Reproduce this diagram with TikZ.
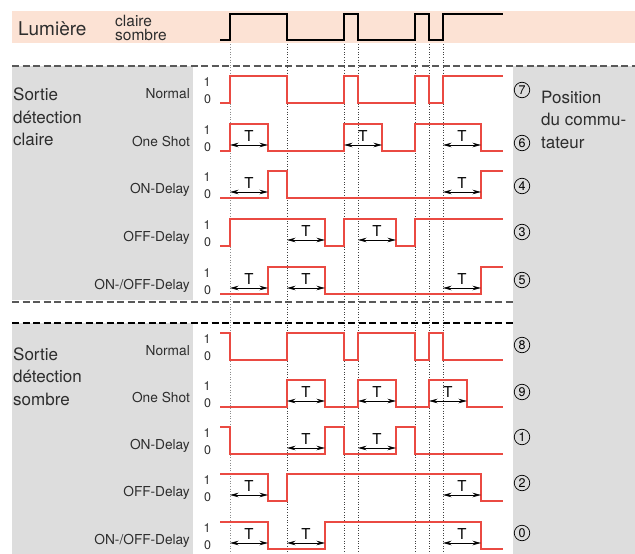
\documentclass[tikz,border=0pt]{standalone}
\usepackage{fontspec}
\setmainfont{TeX Gyre Heros}
\usepackage{tikz}
\usetikzlibrary{arrows.meta}

\definecolor{rosa}{RGB}{252,226,212}
\definecolor{grisfondo}{RGB}{221,221,221}
\definecolor{rojo}{RGB}{234,74,66}
\definecolor{texto}{RGB}{45,45,45}

\begin{document}
\begin{tikzpicture}[
            x=1pt, y=-1pt, text=texto,
            font=\fontsize{13.7}{16}\selectfont,
            separador/.style={dash pattern=on 7pt off 3.5pt, line width=1.1pt, draw=#1},
            separador/.default=black!65,
            marca/.style={dotted, line width=0.6pt, draw=black!75},
            luz/.style={line width=1.5pt, black},
            senal/.style={line width=1.5pt, rojo},
            fila/.style={shift={(0,#1)}},
            duracion/.style={{Stealth[length=8.5pt,width=4.5pt]}-{Stealth[length=8.5pt,width=4.5pt]}, line width=0.7pt, black},
            tlabel/.style={above=2pt, inner sep=1pt, text=black, font=\fontsize{15}{15}\selectfont},
            nivel/.style={inner sep=0pt, font=\fontsize{12.5}{12.5}\selectfont},
            modo/.style={anchor=base east, inner sep=0pt},
            bloque/.style={anchor=base west, align=left, inner sep=0pt, font=\fontsize{17}{22.5}\selectfont},
            posicion/.style={circle, draw=black, line width=0.7pt, minimum size=15.5pt, inner sep=0pt, text=black, font=\fontsize{12.5}{12.5}\selectfont},
        ]
            \useasboundingbox (0,0) rectangle (635,554);

            % --- Fondos ---
            \fill[rosa] (12,11) rectangle (635,43);
            \fill[grisfondo] (12,66) rectangle (193,300);
            \fill[grisfondo] (12,323) rectangle (193,554);
            \fill[grisfondo] (513,66) rectangle (635,554);

            % --- Separadores ---
            \draw[separador] (12,66) -- (635,66);
            \draw[separador] (12,302) -- (513,302);
            \draw[separador=black] (12,323) -- (513,323);

            % --- Líneas de referencia ---
            \draw[marca, draw=black!45] (230,44) -- (230,554);
            \foreach \x in {287, 344, 358, 415, 429, 443} {
                \draw[marca] (\x,44) -- (\x,554);
            }

            % --- Luz ---
            \node[anchor=base west, inner sep=0pt, font=\fontsize{19}{19}\selectfont] (lumiere) at (18,35) {Lumière};
            \node[anchor=base west, inner sep=0pt, font=\fontsize{15.5}{15.5}\selectfont] (claire) at (115,26) {claire};
            \node[anchor=base west, inner sep=0pt, font=\fontsize{15.5}{15.5}\selectfont] (sombre) at (115,40.7) {sombre};
            \draw[luz] (220,40) -| (230,14) -| (287,40) -| (344,14) -| (358,40) -| (415,14) -| (429,40) -| (443,14) -- (503,14);

            % --- Sortie détection claire ---
            \node[bloque] (claro) at (13,145.7) {Sortie\\détection\\claire};
            \draw[senal, fila=76] (220,27) -| (230,0) -| (287,27) -| (344,0) -| (358,27) -| (415,0) -| (429,27) -| (443,0) -- (503,0);
            \draw[senal, fila=124] (220,27) -| (230,0) -| (268,27) -| (344,0) -| (382,27) -| (415,0) -| (481,27) -- (503,27);
            \draw[senal, fila=171] (220,27) -| (268,0) -| (287,27) -| (481,0) -- (503,0);
            \draw[senal, fila=219] (220,27) -| (230,0) -| (325,27) -| (344,0) -| (396,27) -| (415,0) -- (503,0);
            \draw[senal, fila=267] (220,27) -| (268,0) -| (325,27) -| (481,0) -- (503,0);

            % --- Sortie détection sombre ---
            \node[bloque] (oscuro) at (13,405) {Sortie\\détection\\sombre};
            \draw[senal, fila=333] (220,0) -| (230,27) -| (287,0) -| (344,27) -| (358,0) -| (415,27) -| (429,0) -| (443,27) -- (503,27);
            \draw[senal, fila=380] (220,27) -| (287,0) -| (325,27) -| (358,0) -| (396,27) -| (429,0) -| (467,27) -- (503,27);
            \draw[senal, fila=427] (220,0) -| (230,27) -| (325,0) -| (344,27) -| (396,0) -| (415,27) -- (503,27);
            \draw[senal, fila=474] (220,0) -| (268,27) -| (287,0) -| (481,27) -- (503,27);
            \draw[senal, fila=522] (220,0) -| (268,27) -| (325,0) -| (481,27) -- (503,27);

            % --- Modos y niveles ---
            \foreach \y/\nom [count=\k] in {76/Normal, 124/One Shot, 171/ON-Delay, 219/OFF-Delay, 267/{ON-/OFF-Delay},
                    333/Normal, 380/One Shot, 427/ON-Delay, 474/OFF-Delay, 522/{ON-/OFF-Delay}} {
                \node[modo] (modo\k) at (190,\y+22) {\nom};
                \node[nivel] (uno\k) at (207,\y+6) {1};
                \node[nivel] (cero\k) at (207.5,\y+23) {0};
            }

            % --- Tiempos T ---
            \foreach \y/\x [count=\k] in {124/230, 124/344, 124/443, 171/230, 171/443, 219/287, 219/358,
                    267/230, 267/287, 267/443, 380/287, 380/358, 380/429, 427/287, 427/358,
                    474/230, 474/443, 522/230, 522/287, 522/443} {
                \draw[duracion] (\x,\y+21) -- node[tlabel] (T\k) {T} (\x+38,\y+21);
            }

            % --- Posición del conmutador ---
            \foreach \y/\n [count=\k] in {90/7, 143/6, 186/4, 232/3, 280/5, 345/8, 392/9, 437/1, 483/2, 533/0} {
                \node[posicion] (pos\k) at (522,\y) {\n};
            }
            \node[bloque] (conmutador) at (541,148) {Position\\du commu-\\tateur};
        \end{tikzpicture}
\end{document}
